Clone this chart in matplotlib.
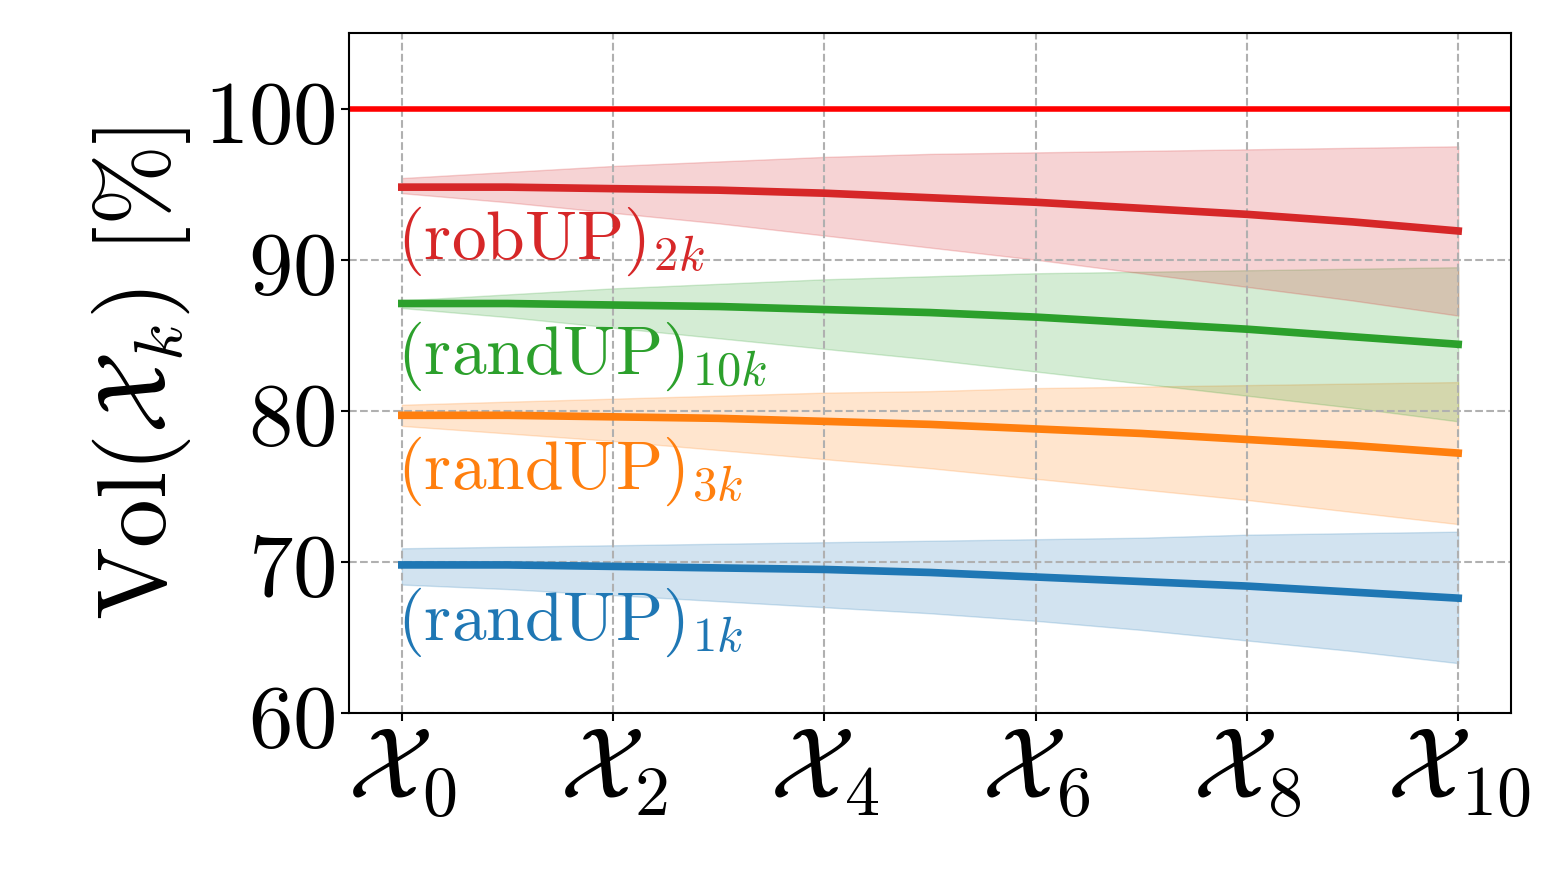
import numpy as np
import matplotlib
matplotlib.use("Agg")
import matplotlib.pyplot as plt

plt.rcParams['mathtext.fontset'] = 'cm'
plt.rcParams['font.family'] = 'serif'
plt.rcParams['font.serif'] = ['DejaVu Serif']

steps = np.arange(11)

rand1k_mean = [69.8, 69.8, 69.7, 69.6, 69.5, 69.3, 69.0, 68.7, 68.4, 68.0, 67.6]
rand1k_up = [70.9, 71.0, 71.1, 71.2, 71.3, 71.4, 71.5, 71.6, 71.8, 71.9, 72.0]
rand1k_lo = [68.5, 68.2, 67.8, 67.4, 67.0, 66.6, 66.1, 65.5, 64.8, 64.1, 63.3]

rand3k_mean = [79.7, 79.7, 79.6, 79.5, 79.3, 79.1, 78.8, 78.5, 78.1, 77.7, 77.2]
rand3k_up = [80.4, 80.6, 80.8, 81.0, 81.2, 81.3, 81.5, 81.6, 81.7, 81.8, 81.9]
rand3k_lo = [79.0, 78.5, 78.0, 77.4, 76.8, 76.2, 75.5, 74.8, 74.1, 73.3, 72.5]

rand10k_mean = [87.1, 87.1, 87.0, 86.9, 86.7, 86.5, 86.2, 85.8, 85.4, 84.9, 84.4]
rand10k_up = [87.3, 87.7, 88.1, 88.4, 88.7, 88.9, 89.1, 89.2, 89.3, 89.4, 89.5]
rand10k_lo = [86.8, 86.2, 85.5, 84.8, 84.1, 83.4, 82.6, 81.8, 81.0, 80.2, 79.3]

rob2k_mean = [94.8, 94.8, 94.7, 94.6, 94.4, 94.1, 93.8, 93.4, 93.0, 92.5, 91.9]
rob2k_up = [95.4, 95.8, 96.2, 96.5, 96.8, 97.0, 97.1, 97.2, 97.3, 97.4, 97.5]
rob2k_lo = [94.4, 93.8, 93.1, 92.4, 91.6, 90.8, 90.0, 89.1, 88.2, 87.3, 86.3]

series = [
    (rand1k_mean, rand1k_lo, rand1k_up, 'tab:blue', r'$(\mathrm{randUP})_{1k}$', 66.0),
    (rand3k_mean, rand3k_lo, rand3k_up, 'tab:orange', r'$(\mathrm{randUP})_{3k}$', 76.0),
    (rand10k_mean, rand10k_lo, rand10k_up, 'tab:green', r'$(\mathrm{randUP})_{10k}$', 83.6),
    (rob2k_mean, rob2k_lo, rob2k_up, 'tab:red', r'$(\mathrm{robUP})_{2k}$', 91.2),
]

fig = plt.figure(figsize=(15.61, 8.77), dpi=100)
ax = fig.add_axes([349/1561, 1-713/877, (1511-349)/1561, (713-33)/877])

ax.axhline(100, color='red', lw=4)
for mean, lo, up, c, lab, ty in series:
    ax.fill_between(steps, lo, up, color=c, alpha=0.2)
    ax.plot(steps, mean, color=c, lw=5.5)
    ax.text(-0.05, ty, lab, color=c, fontsize=50, va='center', ha='left')

ax.set_xlim(-0.5, 10.5)
ax.set_ylim(60, 105)
ax.set_yticks([60, 70, 80, 90, 100])
ax.set_xticks([0, 2, 4, 6, 8, 10])
ax.set_xticklabels([r'$\mathcal{X}_{%d}$' % k for k in [0, 2, 4, 6, 8, 10]], fontsize=72)
ax.set_yticklabels([r'$%d$' % v for v in [60, 70, 80, 90, 100]], fontsize=64)
ax.tick_params(axis='both', width=1.5, length=6)
ax.tick_params(axis='x', pad=2)
ax.grid(True, linestyle='--', color='#b0b0b0', lw=1.5)
for s in ax.spines.values():
    s.set_linewidth(1.5)
ax.set_ylabel(r'$\mathrm{Vol}(\mathcal{X}_k)\ [\%]$', fontsize=70, labelpad=8)

fig.savefig('out.png', dpi=100)
